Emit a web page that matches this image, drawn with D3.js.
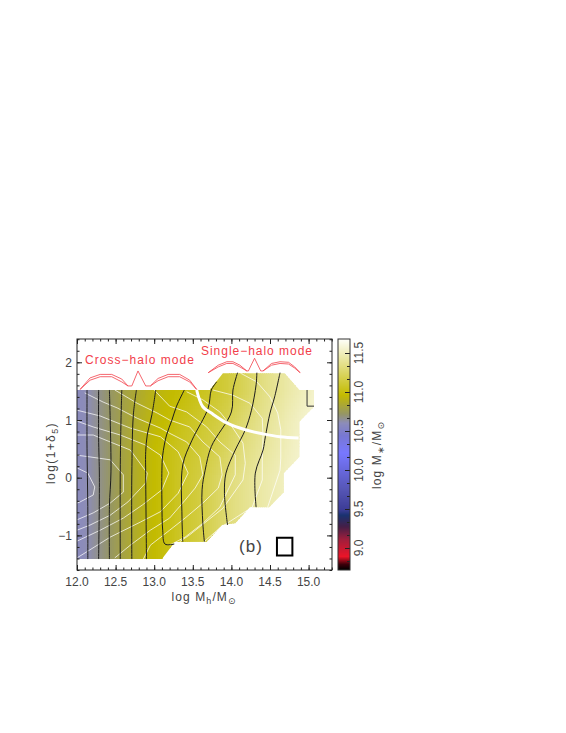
<!DOCTYPE html>
<html><head><meta charset="utf-8">
<script src="https://cdn.jsdelivr.net/npm/d3@7"></script>
<style>
html,body{margin:0;padding:0;background:#fff}
svg{display:block}
text{font-family:"Liberation Sans",sans-serif;fill:#444}
</style></head><body><div id="c"></div>
<script>
// ---- data (log Mh, log(1+delta5), log M*) ----
const xTicks=[12,12.5,13,13.5,14,14.5,15];
const yTicks=[-1,0,1,2];
const barTicks=[9,9.5,10,10.5,11,11.5];
const gridMh=[12,12.2,12.4,12.6,12.8,13,13.2,13.4,13.6,13.8,14,14.2,14.4,14.6,14.8,15];
const gridDelta=[1.5,1.0,0.5,0];
const massAt15=[10.58,10.63,10.71,10.79,10.85,10.91,10.95,10.99,11.04,11.09,11.15,11.23,11.33,11.40,11.46,11.52];
const massAt10=[10.58,10.63,10.71,10.79,10.87,10.93,10.98,11.04,11.09,11.14,11.21,11.30,11.37,11.44,11.50,11.56];
const massAt05=[10.58,10.63,10.71,10.80,10.88,10.96,11.02,11.07,11.12,11.18,11.26,11.34,11.40,11.46,11.52,11.57];
const massAt00=[10.58,10.63,10.71,10.80,10.88,10.96,11.02,11.09,11.15,11.23,11.32,11.38,11.44,11.49,11.54,11.58];
const colorValues=[8.72,8.79,8.89,9.11,9.27,9.42,9.49,9.74,10.22,10.44,10.6,10.72,10.96,11.68];
const colorStops=["#000000","#3c000a","#eb1428","#a01e3c","#461e46","#193270","#3c3c96","#5555b4","#7878ff","#7878d2","#8c8cb9","#969664","#c3bb00","#fffffa"];
const region=[[12,1.52],[13.72,1.52],[13.89,1.81],[14.69,1.81],[14.88,1.52],[15.07,1.52],[15.07,1.23],[14.88,.97],[14.88,.36],[14.68,.08],[14.68,-.25],[14.49,-.51],[14.24,-.51],[14.05,-.79],[13.88,-.82],[13.68,-1.11],[13.27,-1.11],[13.10,-1.41],[12,-1.41]];
const blackContours=[
[[12.13,1.52],[12.13,.5],[12.14,-.5],[12.14,-1.41]],
[[12.28,1.52],[12.28,.7],[12.29,0],[12.28,-1.41]],
[[12.42,1.52],[12.43,1.0],[12.44,.1],[12.42,-.5],[12.42,-1.41]],
[[12.58,1.52],[12.57,1.0],[12.56,.1],[12.56,-1.41]],
[[12.77,1.52],[12.73,1.09],[12.71,.05],[12.71,-1.41]],
[[13.02,1.52],[12.97,1.09],[12.91,.74],[12.89,.45],[12.89,.05],[12.90,-1.41]],
[[13.39,1.52],[13.29,1.24],[13.23,1.0],[13.16,.74],[13.11,.39],[13.10,.13],[13.10,-.44],[13.11,-.91],[13.14,-1.15],[13.26,-1.15]],
[[13.81,1.66],[13.74,1.52],[13.70,1.21],[13.49,.65],[13.37,.22],[13.36,-.68],[13.37,-1.11]],
[[14.08,1.82],[14.02,1.52],[14.00,1.14],[13.74,.54],[13.66,.13],[13.62,-.21],[13.63,-.79],[13.65,-1.11]],
[[14.33,1.82],[14.32,1.61],[14.26,1.17],[14.18,.83],[14.05,.48],[13.93,.08],[13.91,-.27],[13.95,-.82]],
[[14.63,1.82],[14.56,1.40],[14.50,1.12],[14.44,.71],[14.41,.48],[14.31,.08],[14.32,-.51]]
];
const cornerContour=[[14.98,1.52],[14.98,1.24],[15.07,1.24]];
const whiteContours=[
[[12,.17],[12.14,.08],[12.23,-.16],[12.21,-.30],[12.04,-.42],[12,-.44]],
[[12,.39],[12.17,.36],[12.43,.31],[12.60,.05],[12.60,-.25],[12.43,-.44],[12.21,-.61],[12,-.73]],
[[12,.74],[12.21,.74],[12.43,.62],[12.69,.48],[12.91,.08],[12.89,-.09],[12.66,-.42],[12.43,-.65],[12.17,-.82],[12,-.91]],
[[12,.98],[12.21,.88],[12.56,.74],[12.88,.57],[13.08,.39],[13.19,.08],[13.10,-.21],[12.85,-.47],[12.60,-.70],[12.30,-.91],[12,-1.10]],
[[12,1.17],[12.30,1.07],[12.69,.86],[13.08,.71],[13.31,.45],[13.44,.08],[13.31,-.27],[13.08,-.59],[12.82,-.77],[12.43,-1.03],[12.12,-1.29],[12,-1.39]],
[[12.10,1.47],[12.34,1.31],[12.52,1.21],[12.78,1.03],[13.08,.86],[13.20,.77],[13.42,.62],[13.59,.36],[13.63,.05],[13.53,-.18],[13.40,-.39],[13.20,-.70],[12.95,-.91],[12.69,-1.17],[12.49,-1.39]],
[[12.49,1.52],[12.78,1.29],[13.04,1.12],[13.20,1.00],[13.46,.88],[13.63,.62],[13.85,.36],[13.88,.05],[13.83,-.18],[13.63,-.44],[13.40,-.70],[13.20,-.91],[12.95,-1.17],[12.86,-1.41]],
[[13.00,1.52],[13.20,1.24],[13.42,1.14],[13.68,.88],[13.85,.62],[14.05,.39],[14.05,.05],[13.85,-.51],[13.63,-.79],[13.40,-1.03],[13.20,-1.17]],
[[13.42,1.49],[13.63,1.35],[13.85,1.14],[14.02,.86],[14.15,.60],[14.18,.25],[14.15,-.04],[13.89,-.53],[13.46,-.99],[13.33,-1.11]],
[[13.76,1.52],[14.02,1.43],[14.24,1.29],[14.40,1.03],[14.41,.71],[14.40,.31],[14.40,-.04],[14.27,-.51],[13.85,-.87],[13.63,-1.13]],
[[14.12,1.81],[14.33,1.66],[14.50,1.40],[14.60,1.12],[14.64,.83],[14.64,.34],[14.63,.13],[14.47,-.51]]
];
const thickWhite=[[13.55,1.52],[13.63,1.23],[13.74,1.12],[13.94,.95],[14.18,.83],[14.41,.76],[14.63,.71],[14.87,.69]];
const redCurves=[
[[12.04,1.53],[12.17,1.73],[12.30,1.79],[12.45,1.79],[12.58,1.71],[12.66,1.59],[12.71,1.59],[12.79,1.85],[12.89,1.59],[12.95,1.59],[13.05,1.72],[13.18,1.79],[13.33,1.79],[13.46,1.69],[13.55,1.53]],
[[12.04,1.53],[12.17,1.69],[12.30,1.75],[12.45,1.75],[12.58,1.66],[12.66,1.59]],
[[12.95,1.59],[13.05,1.68],[13.18,1.75],[13.33,1.75],[13.46,1.66],[13.55,1.53]],
[[13.70,1.82],[13.83,1.95],[13.94,2.01],[14.02,2.01],[14.11,1.95],[14.20,1.85],[14.22,1.85],[14.30,2.07],[14.38,1.85],[14.41,1.85],[14.52,1.98],[14.63,2.01],[14.74,2.00],[14.82,1.92],[14.89,1.82]],
[[13.70,1.82],[13.83,1.92],[13.94,1.98],[14.02,1.98],[14.11,1.92],[14.20,1.85]],
[[14.41,1.85],[14.52,1.95],[14.63,1.98],[14.74,1.97],[14.82,1.90],[14.89,1.82]]
];
const beam=[[14.59,-1.04],[14.79,-1.04],[14.79,-1.35],[14.59,-1.35]];

// ---- layout ----
const W=566,H=733,L=77,R=332,T=339,B=570,BL=338,BR=350;
const x=d3.scaleLinear([12,15],[77,308.6]);
const y=d3.scaleLinear([0,2],[477.7,362.3]);
const cy=d3.scaleLinear([9,11.5],[548,353]);
const cmap=d3.scaleLinear(colorValues,colorStops).clamp(true);
const svg=d3.select("#c").append("svg").attr("width",W).attr("height",H);
const line=d3.line().x(d=>x(d[0])).y(d=>y(d[1]));
const smooth=d3.line().x(d=>x(d[0])).y(d=>y(d[1])).curve(d3.curveCatmullRom.alpha(.5));

svg.append("clipPath").attr("id","reg").append("path").attr("d",line(region)+"Z");

// heat map, bilinear between the grid rows/columns
const rows=[massAt15,massAt10,massAt05,massAt00];
function mass(a,b){
  const bb=Math.max(0,Math.min(1.5,b)), aa=Math.min(15,a);
  const j=Math.min(2,Math.floor((1.5-bb)/.5)), u=(1.5-bb-j*.5)/.5;
  const i=Math.min(14,Math.floor((aa-12)/.2+1e-9)), t=(aa-gridMh[i])/(gridMh[i+1]-gridMh[i]);
  const f=r=>r[i]+(r[i+1]-r[i])*t;
  const v=f(rows[j])*(1-u)+f(rows[j+1])*u;
  return a>15?v+(a-15)*.25:v;
}
const heat=svg.append("g").attr("clip-path","url(#reg)");
const dxs=.025,dys=.05,cells=[];
for(let a=12;a<15.1;a+=dxs)for(let b=-1.45;b<1.85;b+=dys)cells.push([a,b]);
heat.selectAll("rect").data(cells).join("rect")
  .attr("x",d=>x(d[0])).attr("y",d=>y(d[1]+dys))
  .attr("width",x(12+dxs)-x(12)+.6).attr("height",y(0)-y(dys)+.6)
  .attr("fill",d=>cmap(mass(d[0]+dxs/2,d[1]+dys/2)))
  .attr("shape-rendering","crispEdges");

const paths=(data,gen,col,w)=>svg.append("g").selectAll("path").data(data).join("path")
  .attr("d",gen).attr("fill","none").attr("stroke",col).attr("stroke-width",w).attr("stroke-linejoin","round");
paths(whiteContours,line,"#fff",.8).attr("stroke-opacity",.9);
paths(blackContours,smooth,"#1c1c1c",1);
paths([cornerContour],line,"#333",1);
paths([thickWhite],smooth,"#fff",3);
paths(redCurves,line,"#f2404a",.8);
svg.append("path").attr("d",line(beam)+"Z").attr("fill","none").attr("stroke","#000").attr("stroke-width",2);

// axes
const range=(a,b,s)=>d3.range(Math.round((b-a)/s)+1).map(i=>+(a+i*s).toFixed(4));
const xMinor=range(12,15.3,.1),yMinor=range(-1.6,2.4,.2);
function ticks(ax,sel,vals,len){
  sel.call(ax.tickValues(vals).tickSize(len).tickFormat(""));
  sel.select(".domain").remove();
  sel.selectAll("line").attr("stroke","#222");
  sel.selectAll("text").remove();
}
const gax=svg.append("g");
[[d3.axisBottom(x),`translate(0,${B})`],[d3.axisTop(x),`translate(0,${T})`]].forEach(([ax,tr])=>{
  ticks(ax,gax.append("g").attr("transform",tr),xMinor,-2.5);
  ticks(ax,gax.append("g").attr("transform",tr),xTicks,-5);
});
[[d3.axisLeft(y),`translate(${L},0)`],[d3.axisRight(y),`translate(${R},0)`]].forEach(([ax,tr])=>{
  ticks(ax,gax.append("g").attr("transform",tr),yMinor,-2.5);
  ticks(ax,gax.append("g").attr("transform",tr),yTicks,-5);
});
gax.append("rect").attr("x",L).attr("y",T).attr("width",R-L).attr("height",B-T).attr("fill","none").attr("stroke","#222");

svg.append("g").selectAll("text").data(xTicks).join("text")
  .attr("x",d=>x(d)).attr("y",586).attr("text-anchor","middle").attr("font-size",12).text(d=>d.toFixed(1));
svg.append("g").selectAll("text").data(yTicks).join("text")
  .attr("x",72).attr("y",d=>y(d)+4.5).attr("text-anchor","end").attr("font-size",12).text(d=>d<0?"\u2212"+(-d):d);

// titles
const xt=svg.append("text").attr("x",204).attr("y",601).attr("text-anchor","middle").attr("font-size",12).attr("letter-spacing",1.1);
xt.append("tspan").text("log M");
xt.append("tspan").attr("dy",3).attr("font-size",9).text("h");
xt.append("tspan").attr("dy",-3).text("/M");
xt.append("tspan").attr("dy",3).attr("font-size",9).style("font-family","DejaVu Sans").text("\u2299");
const yt=svg.append("text").attr("transform","translate(55,453) rotate(-90)").attr("text-anchor","middle").attr("font-size",12).attr("letter-spacing",1.4);
yt.append("tspan").text("log(1+\u03b4");
yt.append("tspan").attr("dy",3).attr("font-size",9).text("5");
yt.append("tspan").attr("dy",-3).text(")");
const ct=svg.append("text").attr("transform","translate(381,455) rotate(-90)").attr("text-anchor","middle").attr("font-size",12).attr("letter-spacing",1.1);
ct.append("tspan").text("log M");
ct.append("tspan").attr("dy",3).attr("font-size",9).text("\u2217");
ct.append("tspan").attr("dy",-3).text("/M");
ct.append("tspan").attr("dy",3).attr("font-size",9).style("font-family","DejaVu Sans").text("\u2299");

svg.append("text").attr("x",85).attr("y",364).attr("textLength",109).attr("lengthAdjust","spacing").attr("font-size",12).style("fill","#f2404a").text("Cross\u2212halo mode");
svg.append("text").attr("x",201).attr("y",355).attr("textLength",111).attr("lengthAdjust","spacing").attr("font-size",12).style("fill","#f2404a").text("Single\u2212halo mode");
svg.append("text").attr("x",251).attr("y",552).attr("text-anchor","middle").attr("font-size",17).attr("letter-spacing",1).text("(b)");

// colour bar
const bar=svg.append("g");
const barVals=d3.range(B-T).map(i=>cy.invert(T+i+.5));
bar.append("g").selectAll("rect").data(barVals).join("rect")
  .attr("x",BL).attr("width",BR-BL).attr("y",d=>cy(d)-.5).attr("height",1.2)
  .attr("fill",d=>cmap(d)).attr("shape-rendering","crispEdges");
ticks(d3.axisRight(cy),bar.append("g").attr("transform",`translate(${BR},0)`),range(8.8333,11.5,.16667),-3);
ticks(d3.axisRight(cy),bar.append("g").attr("transform",`translate(${BR},0)`),barTicks,-5);
bar.append("rect").attr("x",BL).attr("y",T).attr("width",BR-BL).attr("height",B-T).attr("fill","none").attr("stroke","#333");
bar.append("g").selectAll("text").data(barTicks).join("text")
  .attr("transform",d=>`translate(363,${cy(d)}) rotate(-90)`).attr("text-anchor","middle").attr("font-size",12).text(d=>d.toFixed(1));
</script></body></html>
